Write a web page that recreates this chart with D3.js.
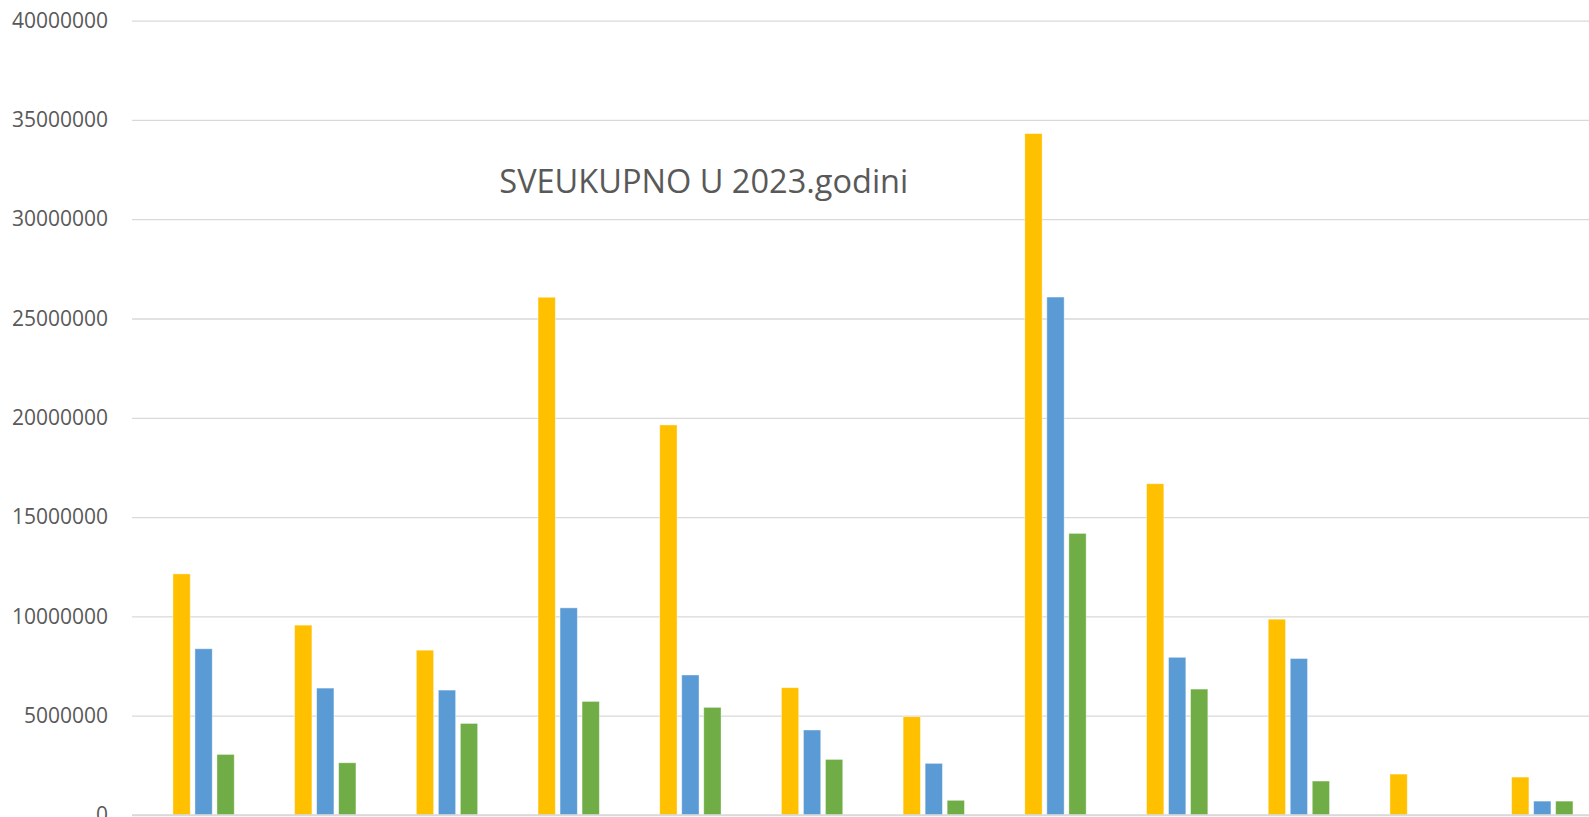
<!DOCTYPE html>
<html>
<head>
<meta charset="utf-8">
<script src="https://cdn.jsdelivr.net/npm/d3@7"></script>
<style>
  html, body { margin: 0; padding: 0; background: #fff; }
  svg { display: block; }
</style>
</head>
<body>
<svg id="chart" width="1589" height="817"></svg>
<script>
// ---- data ----
const categories = ["1", "2", "3", "4", "5", "6", "7", "8", "9", "10", "11", "12"];
const seriesNames = ["Serija 1", "Serija 2", "Serija 3"];
const seriesA = [12140000, 9560000, 8300000, 26070000, 19640000, 6410000, 4950000, 34310000, 16680000, 9860000, 2060000, 1910000];
const seriesB = [8370000, 6390000, 6290000, 10430000, 7050000, 4280000, 2600000, 26080000, 7940000, 7880000, 0, 700000];
const seriesC = [3050000, 2630000, 4610000, 5720000, 5420000, 2800000, 740000, 14180000, 6340000, 1710000, 0, 700000];
const yTicks = [0, 5000000, 10000000, 15000000, 20000000, 25000000, 30000000, 35000000, 40000000];
const title = "SVEUKUPNO U 2023.godini";
const colors = ["#FFC000", "#5B9BD5", "#70AD47"];

const seriesValues = [seriesA, seriesB, seriesC];

// ---- layout ----
const svg = d3.select("#chart");
const plotLeft = 132, plotRight = 1592.4, plotTop = 20.6, plotBottom = 815;

const x0 = d3.scaleBand().domain(categories).range([plotLeft, plotRight]).padding(0);
const bw = x0.bandwidth();
const x1 = d3.scaleBand().domain(seriesNames)
  .range([bw * 0.317, bw * 0.8595])
  .paddingInner(0.214).paddingOuter(0.107);
const y = d3.scaleLinear().domain([0, 40000000]).range([plotBottom, plotTop]);

// gridlines
const yAxis = d3.axisLeft(y).tickValues(yTicks).tickSize(-(plotRight - plotLeft)).tickPadding(24).tickFormat(d3.format("d"));
const gy = svg.append("g").attr("transform", `translate(${plotLeft},0)`).call(yAxis);
gy.select(".domain").remove();
gy.selectAll(".tick line").attr("stroke", "#D9D9D9").attr("stroke-width", 1.3);
gy.selectAll(".tick text")
  .attr("fill", "#595959")
  .attr("font-family", "'Open Sans', 'Liberation Sans', sans-serif")
  .attr("font-size", 21);

// bars
const rows = categories.map((c, i) => ({ cat: c, vals: seriesNames.map((s, j) => ({ s, j, v: seriesValues[j][i] })) }));
const groups = svg.append("g").selectAll("g").data(rows).join("g")
  .attr("transform", d => `translate(${x0(d.cat)},0)`);
groups.selectAll("rect").data(d => d.vals).join("rect")
  .attr("x", d => x1(d.s))
  .attr("width", x1.bandwidth())
  .attr("y", d => y(d.v))
  .attr("height", d => y(0) - y(d.v))
  .attr("fill", d => colors[d.j])
  .attr("stroke", "#ffffff")
  .attr("stroke-opacity", 0.5)
  .attr("stroke-width", 0.8);

// baseline
svg.append("line")
  .attr("x1", plotLeft).attr("x2", plotRight)
  .attr("y1", y(0)).attr("y2", y(0))
  .attr("stroke", "#D9D9D9").attr("stroke-width", 1.5);

// title
const t = svg.append("text")
  .attr("x", 703.8).attr("y", 192.7)
  .attr("text-anchor", "middle")
  .attr("fill", "#595959")
  .attr("font-family", "'Open Sans', 'Liberation Sans', sans-serif")
  .attr("font-size", 32)
  .text(title);
const len = t.node().getComputedTextLength();
t.attr("font-size", 32 * 409 / len);
</script>
</body>
</html>
